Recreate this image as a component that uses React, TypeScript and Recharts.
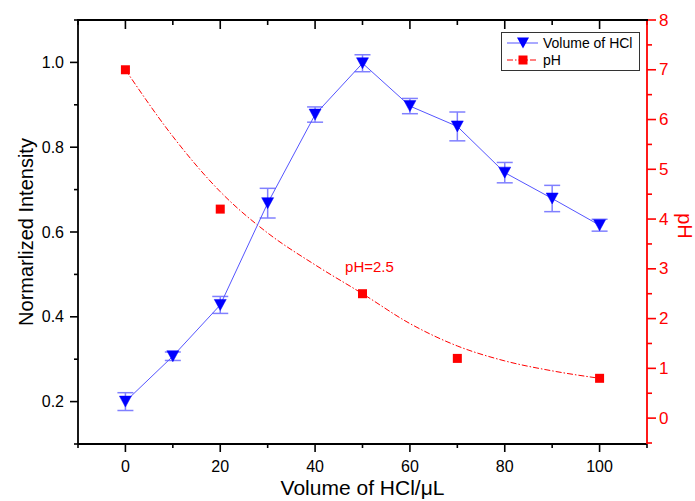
import { ComposedChart, Line, XAxis, YAxis, ErrorBar, ReferenceDot, ReferenceLine, Legend, Label } from 'recharts';

// Normalized intensity vs. volume of HCl (left axis)
const volumes = [0, 10, 20, 30, 40, 50, 60, 70, 80, 90, 100];
const intensity = [0.2, 0.307, 0.428, 0.668, 0.877, 0.998, 0.897, 0.849, 0.74, 0.679, 0.616];
const intensityErr = [0.021, 0.01, 0.02, 0.035, 0.018, 0.02, 0.018, 0.034, 0.024, 0.031, 0.014];

// pH (right axis): fitted curve + measured points
const phFit = [7.0, 5.66, 4.55, 3.72, 3.08, 2.5, 1.9, 1.45, 1.15, 0.95, 0.8];
const phVolumes = [0, 20, 50, 70, 100];
const phMeasured = [7.0, 4.2, 2.5, 1.2, 0.8];

// axis ticks
const xMajor = [0, 20, 40, 60, 80, 100];
const xMinor = [-10, 10, 30, 50, 70, 90, 110];
const leftMajor = [0.2, 0.4, 0.6, 0.8, 1.0];
const leftMinor = [0.1, 0.3, 0.5, 0.7, 0.9, 1.1];
const rightMajor = [0, 1, 2, 3, 4, 5, 6, 7, 8];
const rightMinor = [-0.5, 0.5, 1.5, 2.5, 3.5, 4.5, 5.5, 6.5, 7.5];

const X_DOMAIN = [-10, 110];
const LEFT_DOMAIN = [0.1, 1.1];
const RIGHT_DOMAIN = [-0.52, 8];

const data = volumes.map((v, i) => {
  const k = phVolumes.indexOf(v);
  return {
    x: v,
    intensity: intensity[i],
    err: intensityErr[i],
    fit: phFit[i],
    ph: k >= 0 ? phMeasured[k] : null,
  };
});

// chart box
const W = 695;
const H = 501;
const TOP = 20;
const LEFT_W = 78;
const RIGHT_W = 48;
const BOTTOM_H = 57;
const PLOT_W = W - LEFT_W - RIGHT_W;
const PLOT_H = H - TOP - BOTTOM_H;
const UNIT_PER_PX = (LEFT_DOMAIN[1] - LEFT_DOMAIN[0]) / PLOT_H;

const BLUE = '#0000ff';
const BLUE_LINE = '#5555ff';
const BLUE_ERR = '#8080ff';
const RED = '#ff0000';
const FONT = '"Liberation Sans", Arial, sans-serif';

const allTicks = (a: number[], b: number[]) => [...a, ...b].sort((p, q) => p - q);
const isIn = (arr: number[], v: number) => arr.some((m) => Math.abs(m - v) < 1e-6);

const BottomTick = (props: any) => {
  const { x, y, payload } = props;
  const major = isIn(xMajor, payload.value);
  return (
    <g>
      <line x1={x} x2={x} y1={y} y2={y + (major ? 8 : 4)} stroke="#000" strokeWidth={1.6} />
      {major && (
        <text x={x} y={y + 28} textAnchor="middle" fontSize={16} fill="#000" fontFamily={FONT}>
          {payload.value}
        </text>
      )}
    </g>
  );
};

const LeftTick = (props: any) => {
  const { x, y, payload } = props;
  const major = isIn(leftMajor, payload.value);
  return (
    <g>
      <line x1={x - (major ? 8 : 4)} x2={x} y1={y} y2={y} stroke="#000" strokeWidth={1.6} />
      {major && (
        <text x={x - 14} y={y} textAnchor="end" dominantBaseline="central" fontSize={16} fill="#000" fontFamily={FONT}>
          {payload.value.toFixed(1)}
        </text>
      )}
    </g>
  );
};

const RightTick = (props: any) => {
  const { x, y, payload } = props;
  const major = isIn(rightMajor, payload.value);
  return (
    <g>
      <line x1={x} x2={x + (major ? 9 : 5)} y1={y} y2={y} stroke={RED} strokeWidth={1.6} />
      {major && (
        <text x={x + 12} y={y} textAnchor="start" dominantBaseline="central" fontSize={17} fill={RED} fontFamily={FONT}>
          {payload.value}
        </text>
      )}
    </g>
  );
};

const Triangle = (props: any) => {
  const { cx, cy, index } = props;
  if (cx == null || cy == null) return <g key={`t-${index}`} />;
  return (
    <path
      key={`t-${index}`}
      d={`M${cx - 6},${cy - 5.5} L${cx + 6},${cy - 5.5} L${cx},${cy + 5.5} Z`}
      fill={BLUE}
      stroke={BLUE}
      strokeWidth={0.5}
    />
  );
};

const Square = (props: any) => {
  const { cx, cy, index, payload } = props;
  if (cx == null || cy == null || payload?.ph == null) return <g key={`s-${index}`} />;
  return <rect key={`s-${index}`} x={cx - 4.5} y={cy - 4.5} width={9} height={9} fill={RED} />;
};

const LegendBox = () => (
  <svg width={139} height={39} style={{ display: 'block' }}>
    <rect x={0.5} y={0.5} width={138} height={38} fill="#fff" stroke="#333" strokeWidth={1} />
    <line x1={6} x2={37} y1={11} y2={11} stroke={BLUE_LINE} strokeWidth={1} />
    <path d="M16,5.5 L28,5.5 L22,16.5 Z" fill={BLUE} />
    <text x={42} y={16} fontSize={14} fill="#000" fontFamily={FONT}>Volume of HCl</text>
    <line x1={6} x2={37} y1={28} y2={28} stroke={RED} strokeWidth={1} strokeDasharray="6 2 1.5 2" />
    <rect x={17.5} y={23.5} width={9} height={9} fill={RED} />
    <text x={42} y={33} fontSize={14} fill="#000" fontFamily={FONT}>pH</text>
  </svg>
);

// top frame of the plot box, drawn above the chart surface
const TopFrame = () => (
  <div
    style={{
      position: 'absolute',
      left: LEFT_W - 1,
      top: TOP - 1,
      width: PLOT_W + 2,
      height: 0,
      borderTop: '2px solid #000',
      pointerEvents: 'none',
      zIndex: 5,
    }}
  />
);

export default function App() {
  const topY = LEFT_DOMAIN[1];
  return (
    <div style={{ position: 'absolute', left: 0, top: 0, width: W, height: H, background: '#fff', fontFamily: FONT }}>
      <ComposedChart width={W} height={H} data={data} margin={{ top: TOP, right: 0, bottom: 0, left: 0 }}>
        <XAxis
          xAxisId="bottom"
          dataKey="x"
          type="number"
          domain={X_DOMAIN}
          ticks={allTicks(xMajor, xMinor)}
          interval={0}
          height={BOTTOM_H}
          tickSize={0}
          tickMargin={0}
          tickLine={false}
          axisLine={{ stroke: '#000', strokeWidth: 1.8 }}
          tick={(p: any) => <BottomTick {...p} />}
        >
          <Label
            content={(p: any) => {
              const vb = p.viewBox;
              return (
                <text x={vb.x + vb.width / 2} y={vb.y + 51} textAnchor="middle" fontSize={21} fill="#000" fontFamily={FONT}>
                  Volume of HCl/μL
                </text>
              );
            }}
          />
        </XAxis>
        <YAxis
          yAxisId="left"
          type="number"
          domain={LEFT_DOMAIN}
          ticks={allTicks(leftMajor, leftMinor)}
          interval={0}
          width={LEFT_W}
          tickSize={0}
          tickMargin={0}
          tickLine={false}
          axisLine={{ stroke: '#000', strokeWidth: 1.8 }}
          tick={(p: any) => <LeftTick {...p} />}
        >
          <Label
            content={(p: any) => {
              const vb = p.viewBox;
              const cx = vb.x + 33;
              const cy = vb.y + vb.height / 2;
              return (
                <text x={cx} y={cy} transform={`rotate(-90 ${cx} ${cy})`} textAnchor="middle" fontSize={20} fill="#000" fontFamily={FONT}>
                  Normarlized Intensity
                </text>
              );
            }}
          />
        </YAxis>
        <YAxis
          yAxisId="right"
          orientation="right"
          type="number"
          domain={RIGHT_DOMAIN}
          ticks={allTicks(rightMajor, rightMinor)}
          interval={0}
          width={RIGHT_W}
          tickSize={0}
          tickMargin={0}
          tickLine={false}
          axisLine={{ stroke: RED, strokeWidth: 1.8 }}
          tick={(p: any) => <RightTick {...p} />}
        >
          <Label
            content={(p: any) => {
              const vb = p.viewBox;
              const cx = vb.x + 31;
              const cy = vb.y + vb.height / 2 - 6;
              return (
                <text x={cx} y={cy} transform={`rotate(90 ${cx} ${cy})`} textAnchor="middle" fontSize={20} fill={RED} fontFamily={FONT}>
                  pH
                </text>
              );
            }}
          />
        </YAxis>

        {/* inward ticks on the top frame */}
        {allTicks(xMajor, xMinor).map((v) => (
          <ReferenceLine
            key={`top-${v}`}
            xAxisId="bottom"
            yAxisId="left"
            segment={[{ x: v, y: topY }, { x: v, y: topY - (isIn(xMajor, v) ? 9 : 5) * UNIT_PER_PX }]}
            ifOverflow="visible"
            stroke="#000"
            strokeWidth={1.6}
          />
        ))}

        <Line
          xAxisId="bottom"
          yAxisId="right"
          dataKey="fit"
          type="monotone"
          stroke={RED}
          strokeWidth={1}
          strokeDasharray="6 2 1.5 2"
          dot={false}
          activeDot={false}
          isAnimationActive={false}
        />
        <Line
          xAxisId="bottom"
          yAxisId="left"
          dataKey="intensity"
          type="linear"
          stroke={BLUE_LINE}
          strokeWidth={1}
          dot={(p: any) => <Triangle key={`tri-${p.index}`} {...p} />}
          activeDot={false}
          isAnimationActive={false}
        >
          <ErrorBar dataKey="err" direction="y" width={8} stroke={BLUE_ERR} strokeWidth={1.5} isAnimationActive={false} />
        </Line>
        <Line
          xAxisId="bottom"
          yAxisId="right"
          dataKey="ph"
          stroke="none"
          connectNulls={false}
          dot={(p: any) => <Square key={`sq-${p.index}`} {...p} />}
          activeDot={false}
          isAnimationActive={false}
        />
        <ReferenceDot
          xAxisId="bottom"
          yAxisId="right"
          x={50}
          y={2.5}
          r={0}
          fill="none"
          stroke="none"
          label={(p: any) => {
            const vb = p.viewBox;
            return (
              <text x={vb.x + 7} y={vb.y - 22} textAnchor="middle" fontSize={15} fill={RED} fontFamily={FONT}>
                pH=2.5
              </text>
            );
          }}
        />
        <Legend
          layout="vertical"
          align="center"
          verticalAlign="middle"
          wrapperStyle={{ left: 501, top: 32, width: 139, height: 39 }}
          content={() => <LegendBox />}
        />
      </ComposedChart>
      <TopFrame />
    </div>
  );
}
